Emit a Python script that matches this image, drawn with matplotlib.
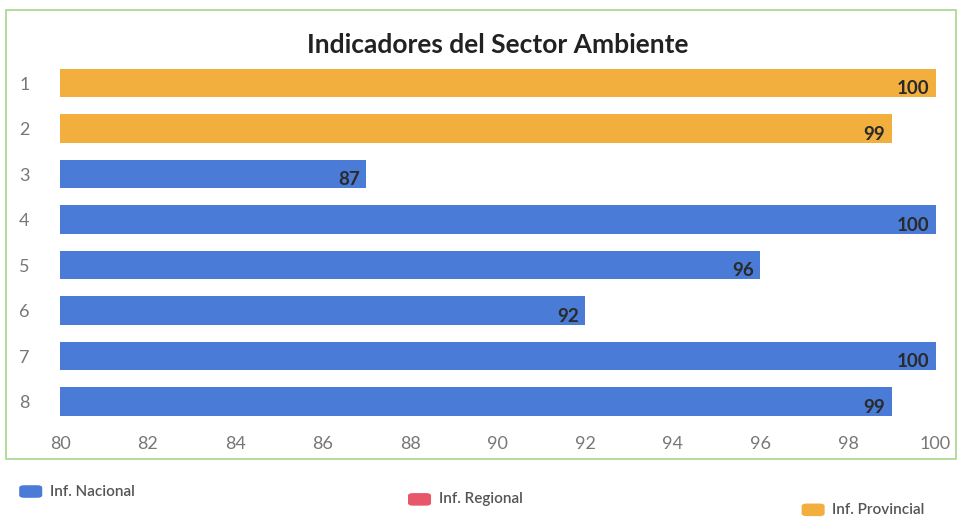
import matplotlib.pyplot as plt
from matplotlib.patches import Rectangle, FancyBboxPatch

# Datos del gráfico
categorias = ['1', '2', '3', '4', '5', '6', '7', '8']
valores = [100, 99, 87, 100, 96, 92, 100, 99]
series = ['Inf. Provincial', 'Inf. Provincial', 'Inf. Nacional', 'Inf. Nacional',
          'Inf. Nacional', 'Inf. Nacional', 'Inf. Nacional', 'Inf. Nacional']
xticks = [80, 82, 84, 86, 88, 90, 92, 94, 96, 98, 100]

colores = {
    'Inf. Nacional': '#4a7bd6',
    'Inf. Regional': '#e8566a',
    'Inf. Provincial': '#f3af3d',
}

plt.rcParams['font.family'] = ['Lato', 'DejaVu Sans']

fig = plt.figure(figsize=(9.6, 5.24), dpi=100)
ax = fig.add_axes([0.0625, 0.19, 0.912, 0.695])

y = list(range(len(categorias)))
ax.barh(y, [v - 80 for v in valores], left=80, height=0.63,
        color=[colores[s] for s in series])

for yi, v in zip(y, valores):
    ax.text(v - 0.15, yi + 0.12, str(v), ha='right', va='center',
            fontsize=13.5, fontweight='bold', color='#2a2a2a')

ax.set_xlim(80, 100)
ax.set_ylim(len(categorias) - 0.5, -0.5)
ax.set_xticks(xticks)
ax.set_yticks(y)
ax.set_yticklabels(categorias)
ax.tick_params(length=0, colors='#777777', labelsize=13, pad=8)
ax.tick_params(axis='y', pad=22)
for s in ax.spines.values():
    s.set_visible(False)

# Título
fig.text(0.518, 0.915, 'Indicadores del Sector Ambiente', ha='center', va='center',
         fontsize=19, fontweight='bold', color='#222222')

# Borde verde del área del gráfico
fig.patches.append(Rectangle((0.006, 0.125), 0.99, 0.855, transform=fig.transFigure,
                             fill=False, edgecolor='#a6d68a', linewidth=1.2))

# Leyenda
pos = [(0.02, 0.05), (0.425, 0.035), (0.835, 0.015)]
for (lx, ly), nombre in zip(pos, ['Inf. Nacional', 'Inf. Regional', 'Inf. Provincial']):
    fig.patches.append(FancyBboxPatch((lx, ly), 0.024, 0.024, transform=fig.transFigure,
                                      boxstyle='round,pad=0,rounding_size=0.005',
                                      facecolor=colores[nombre], edgecolor='none'))
    fig.text(lx + 0.032, ly + 0.012, nombre, ha='left', va='center',
             fontsize=11, fontweight='semibold', color='#555555')

fig.savefig('out.png', dpi=100)
